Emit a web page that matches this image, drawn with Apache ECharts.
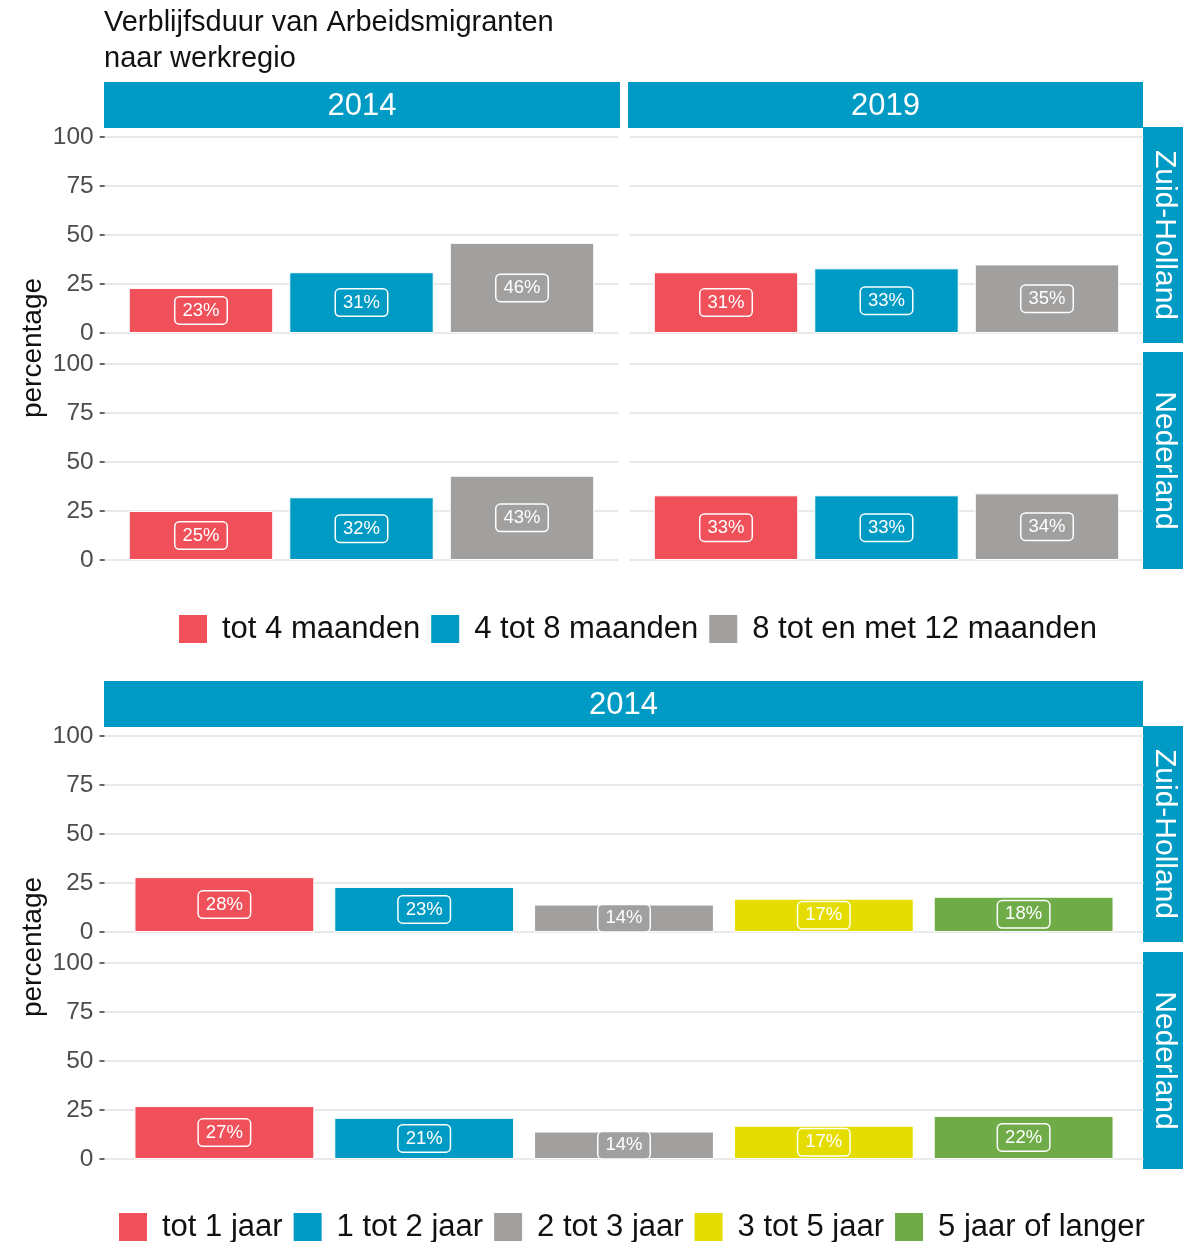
<!DOCTYPE html>
<html>
<head>
<meta charset="utf-8">
<script src="https://cdn.jsdelivr.net/npm/echarts@6/dist/echarts.min.js"></script>
<style>
  html, body { margin: 0; padding: 0; background: #fff; }
  #chart { width: 1183px; height: 1242px; }
</style>
</head>
<body>
<div id="chart"></div>
<script>
// data
var titleText = 'Verblijfsduur van Arbeidsmigranten\nnaar werkregio';
var regions = ['Zuid-Holland', 'Nederland'];
var topYears = ['2014', '2019'];
var bottomYears = ['2014'];
var topCats = ['tot 4 maanden', '4 tot 8 maanden', '8 tot en met 12 maanden'];
var bottomCats = ['tot 1 jaar', '1 tot 2 jaar', '2 tot 3 jaar', '3 tot 5 jaar', '5 jaar of langer'];
var top2014ZH = [23, 31, 46];
var top2019ZH = [31, 33, 35];
var top2014NL = [25, 32, 43];
var top2019NL = [33, 33, 34];
var bottom2014ZH = [28, 23, 14, 17, 18];
var bottom2014NL = [27, 21, 14, 17, 22];
var yTicks = [0, 25, 50, 75, 100];

var catColors = ['#ef5059', '#009bc4', '#a2a09e', '#e6dd00', '#6fac47'];
var stripColor = '#009bc4';
var FONT = '"Liberation Sans", Arial, sans-serif';

var chart = echarts.init(document.getElementById('chart'));

var grids = [], xAxes = [], yAxes = [], series = [], graphics = [];

// one facet panel = one grid
function addPanel(left, width, top, values, cats, showY) {
  var g = grids.length;
  grids.push({ left: left, top: top, width: width, height: 196 });
  xAxes.push({
    gridIndex: g, type: 'value', min: 0.4, max: cats.length + 0.6,
    axisLine: { show: false }, axisTick: { show: false },
    axisLabel: { show: false }, splitLine: { show: false }
  });
  yAxes.push({
    gridIndex: g, type: 'value', min: yTicks[0], max: yTicks[yTicks.length - 1], interval: 25,
    axisLine: { show: false },
    axisTick: { show: showY, length: 5, lineStyle: { color: '#333', width: 1.5 } },
    axisLabel: { show: showY, margin: 11, color: '#4d4d4d', fontSize: 24.5, fontFamily: FONT },
    splitLine: { show: true, lineStyle: { color: '#e2e2e2', width: 1.5 } }
  });
  cats.forEach(function (c, i) {
    series.push({
      type: 'bar', name: c, xAxisIndex: g, yAxisIndex: g,
      data: [[i + 1, values[i]]],
      barWidth: '90%', barGap: '-100%',
      itemStyle: { color: catColors[i], borderColor: '#fff', borderWidth: 1 },
      label: {
        show: true, position: 'inside', color: '#fff', fontSize: 18.5, fontFamily: FONT,
        backgroundColor: catColors[i], borderColor: '#fff', borderWidth: 1.5,
        borderRadius: 4, padding: [4, 7, 3, 7],
        formatter: function (p) { return p.value[1] + '%'; }
      }
    });
  });
}

function stripTop(x, y, w, text) {
  graphics.push({ type: 'rect', shape: { x: x, y: y, width: w, height: 46 }, style: { fill: stripColor }, silent: true });
  graphics.push({ type: 'text', x: x + w / 2, y: y + 24, style: {
    text: text, fill: '#fff', font: '31px ' + FONT, align: 'center', verticalAlign: 'middle' } });
}
function stripRight(y, h, text) {
  graphics.push({ type: 'rect', shape: { x: 1143, y: y, width: 40, height: h }, style: { fill: stripColor }, silent: true });
  graphics.push({ type: 'text', x: 1164, y: y + h / 2, rotation: -Math.PI / 2, style: {
    text: text, fill: '#fff', font: '30px ' + FONT, align: 'center', verticalAlign: 'middle' } });
}
function yTitle(cy) {
  graphics.push({ type: 'text', x: 33, y: cy, rotation: Math.PI / 2, style: {
    text: 'percentage', fill: '#111', font: '28px ' + FONT, align: 'center', verticalAlign: 'middle' } });
}

// upper chart: 2 x 2 facets
addPanel(104.7, 513.6, 137, top2014ZH, topCats, true);
addPanel(629.7, 513.6, 137, top2019ZH, topCats, false);
addPanel(104.7, 513.6, 364, top2014NL, topCats, true);
addPanel(629.7, 513.6, 364, top2019NL, topCats, false);
stripTop(104, 82, 516, topYears[0]);
stripTop(628, 82, 515, topYears[1]);
stripRight(127, 216, regions[0]);
stripRight(352, 217, regions[1]);
yTitle(348);

// lower chart: 1 x 2 facets
addPanel(104.5, 1039, 736, bottom2014ZH, bottomCats, true);
addPanel(104.5, 1039, 963, bottom2014NL, bottomCats, true);
stripTop(104, 681, 1039, bottomYears[0]);
stripRight(726, 216, regions[0]);
stripRight(952, 217, regions[1]);
yTitle(947);

var legendBase = {
  orient: 'horizontal', itemWidth: 30, itemHeight: 30, itemGap: 9, icon: 'rect',
  selectedMode: false, padding: 0,
  textStyle: { fontSize: 31, fontFamily: FONT, color: '#111', padding: [0, 0, 0, 9] }
};

var option = {
  animation: false,
  backgroundColor: '#fff',
  title: {
    text: titleText, left: 99, top: 0, padding: [5, 5],
    textStyle: { fontSize: 29, fontWeight: 'normal', color: '#111', fontFamily: FONT, lineHeight: 36 }
  },
  legend: [
    Object.assign({}, legendBase, { data: topCats, left: 177, top: 613 }),
    Object.assign({}, legendBase, { data: bottomCats, left: 117, top: 1211 })
  ],
  grid: grids,
  xAxis: xAxes,
  yAxis: yAxes,
  series: series,
  graphic: graphics
};
chart.setOption(option);
</script>
</body>
</html>
